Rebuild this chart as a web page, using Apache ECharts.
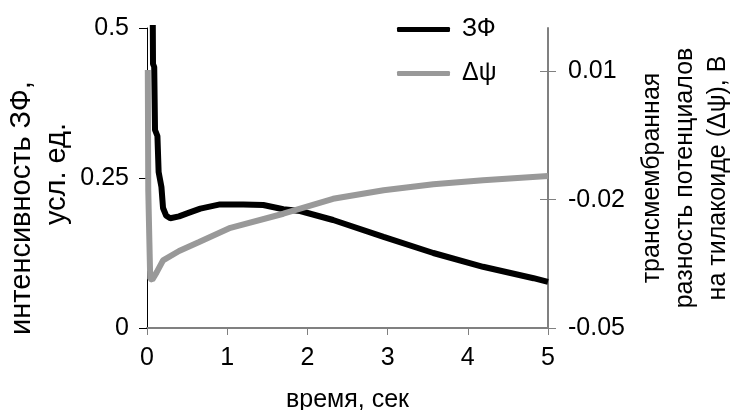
<!DOCTYPE html>
<html>
<head>
<meta charset="utf-8">
<script src="https://cdn.jsdelivr.net/npm/echarts@6/dist/echarts.min.js"></script>
<style>
  html, body { margin: 0; padding: 0; background: #fff; }
  #chart { width: 733px; height: 410px; }
</style>
</head>
<body>
<div id="chart"></div>
<script>
// ЗФ (левая ось)
const timeZF = [0.07, 0.075, 0.09, 0.1, 0.13, 0.145, 0.18, 0.2, 0.24, 0.29, 0.4, 0.5, 0.665, 0.91, 1.2, 1.45, 1.7, 1.91, 2.32, 2.95, 3.57, 4.19, 4.82, 5.0];
const valZF = [0.56, 0.44, 0.435, 0.33, 0.32, 0.26, 0.235, 0.2, 0.187, 0.183, 0.186, 0.191, 0.199, 0.206, 0.206, 0.205, 0.198, 0.195, 0.18, 0.152, 0.125, 0.102, 0.083, 0.077];
// Δψ (правая ось)
const timePsi = [0.01, 0.016, 0.03, 0.04, 0.066, 0.12, 0.2, 0.4, 0.65, 1.04, 1.7, 2.32, 2.95, 3.57, 4.19, 5.0];
const valPsi = [0.0103, -0.018, -0.03, -0.0385, -0.0387, -0.037, -0.0342, -0.032, -0.0299, -0.0266, -0.0233, -0.0198, -0.0178, -0.0164, -0.0155, -0.0145];
// подписи делений
const leftTicks = [0, 0.25, 0.5];
const rightTicks = [-0.05, -0.02, 0.01];
const xTicks = [0, 1, 2, 3, 4, 5];

const font = "'Liberation Sans', Arial, sans-serif";
const chart = echarts.init(document.getElementById("chart"));

const option = {
  animation: false,
  textStyle: { fontFamily: font, color: "#000" },
  grid: { left: 147, right: 185, top: 28, bottom: 82, outerBoundsMode: "none" },
  legend: {
    orient: "vertical",
    left: 392,
    top: 12,
    icon: "roundRect",
    itemWidth: 53,
    itemHeight: 5,
    itemGap: 19,
    textStyle: { fontSize: 25, color: "#000", fontFamily: font, padding: [0, 0, 0, 7] },
    data: ["ЗФ", "Δψ"],
  },
  xAxis: {
    type: "value",
    min: 0,
    max: 5,
    interval: 1,
    name: "время, сек",
    nameLocation: "middle",
    nameGap: 60,
    nameTextStyle: { fontSize: 25, color: "#000", fontFamily: font },
    axisLine: { lineStyle: { color: "#808080", width: 2 } },
    axisTick: { show: true, length: 7, lineStyle: { color: "#808080", width: 1 } },
    axisLabel: { fontSize: 25, color: "#000", margin: 18, fontFamily: font,
      customValues: xTicks },
    splitLine: { show: false },
  },
  yAxis: [
    {
      type: "value",
      position: "left",
      min: 0,
      max: 0.5,
      interval: 0.25,
      name: "интенсивность ЗФ,",
      nameLocation: "middle",
      nameGap: 109,
      nameTextStyle: { fontSize: 29, lineHeight: 33, color: "#000", fontFamily: font,
        padding: [0, 60, 0, 0] },
      axisLine: { show: true, lineStyle: { color: "#000", width: 1 } },
      axisTick: { show: true, length: 8, lineStyle: { color: "#000", width: 1 } },
      axisLabel: { fontSize: 25, color: "#000", margin: 18, fontFamily: font,
        customValues: leftTicks },
      splitLine: { show: false },
    },
    {
      type: "value",
      position: "right",
      min: -0.05,
      max: 0.0201,
      name: "трансмембранная\nразность потенциалов\nна тилакоиде (Δψ), В",
      nameLocation: "middle",
      nameGap: 86,
      nameTextStyle: { fontSize: 25, lineHeight: 33, color: "#000", fontFamily: font },
      axisLine: { show: true, lineStyle: { color: "#808080", width: 2 } },
      axisTick: { show: true, length: 8, customValues: rightTicks,
        lineStyle: { color: "#808080", width: 1 } },
      axisLabel: { fontSize: 25, color: "#000", margin: 20, fontFamily: font,
        customValues: rightTicks },
      splitLine: { show: false },
    },
    {
      // внутренняя часть делений правой оси
      type: "value",
      position: "right",
      min: -0.05,
      max: 0.0201,
      axisLine: { show: false },
      axisTick: { show: true, inside: true, length: 8, customValues: rightTicks,
        lineStyle: { color: "#808080", width: 1 } },
      axisLabel: { show: false },
      splitLine: { show: false },
    },
    {
      // вторая строка подписи левой оси
      type: "value",
      position: "left",
      min: 0,
      max: 0.5,
      name: "усл. ед.",
      nameLocation: "middle",
      nameGap: 74,
      nameTextStyle: { fontSize: 29, lineHeight: 33, color: "#000", fontFamily: font,
        padding: [0, 0, 0, 8] },
      axisLine: { show: false },
      axisTick: { show: false },
      axisLabel: { show: false },
      splitLine: { show: false },
    },
  ],
  series: [
    {
      name: "ЗФ",
      type: "line",
      yAxisIndex: 0,
      symbol: "none",
      clip: true,
      lineStyle: { color: "#000", width: 6 },
      itemStyle: { color: "#000" },
      data: timeZF.map((t, i) => [t, valZF[i]]),
    },
    {
      name: "Δψ",
      type: "line",
      yAxisIndex: 1,
      symbol: "none",
      clip: true,
      lineStyle: { color: "#999", width: 6 },
      itemStyle: { color: "#999" },
      data: timePsi.map((t, i) => [t, valPsi[i]]),
    },
  ],
};
chart.setOption(option);
</script>
</body>
</html>
